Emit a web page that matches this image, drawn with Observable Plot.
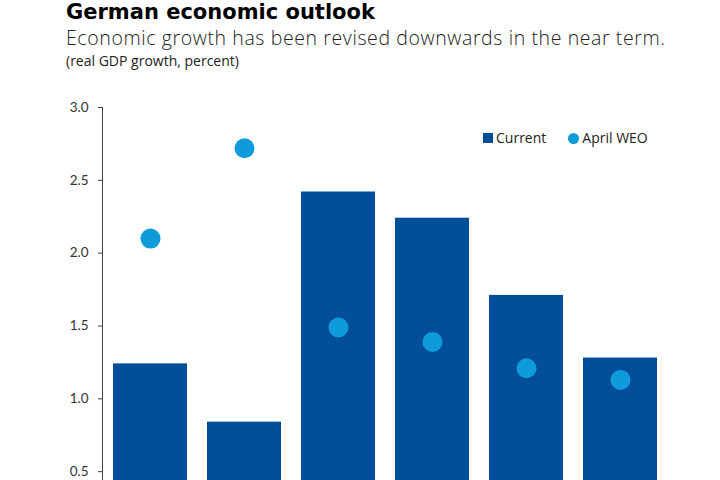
<!DOCTYPE html>
<html>
<head>
<meta charset="utf-8">
<script src="https://cdn.jsdelivr.net/npm/d3@7"></script>
<script src="https://cdn.jsdelivr.net/npm/@observablehq/plot@0.6"></script>
<style>
  html, body { margin: 0; padding: 0; background: #fff; }
  #page { position: relative; width: 720px; height: 480px; overflow: hidden; font-family: "Open Sans", Lato, sans-serif; color: #111; }
  #page > div { white-space: nowrap; }
  #title { position: absolute; left: 66px; top: 0px; font-family: "DejaVu Sans", sans-serif; font-size: 21px; line-height: normal; font-weight: 700; color: #000; }
  #subtitle { position: absolute; left: 66px; top: 28px; font-size: 19.5px; line-height: 19.5px; letter-spacing: 0.6px; font-weight: 300; color: #222; }
  #note { position: absolute; left: 66px; top: 54px; font-size: 14px; line-height: 14px; font-weight: 400; color: #222; }
  #chart { position: absolute; left: 0; top: 80px; }
  #legend { position: absolute; left: 483px; top: 129px; font-size: 14px; line-height: 18px; color: #222; display: flex; align-items: center; }
  #legend .sw { display: inline-block; width: 10px; height: 10px; margin-right: 3px; }
  #legend .dot { border-radius: 50%; width: 11px; height: 11px; margin-left: 22px; margin-right: 3px; }
</style>
</head>
<body>
<div id="page">
  <div id="title">German economic outlook</div>
  <div id="subtitle">Economic growth has been revised downwards in the near term.</div>
  <div id="note">(real GDP growth, percent)</div>
  <div id="chart"></div>
  <div id="legend">
    <span class="sw" style="background:#034e98"></span><span>Current</span>
    <span class="sw dot" style="background:#0f9ad9"></span><span>April WEO</span>
  </div>
</div>
<script>
// Real GDP growth, percent
const years = ["2022", "2023", "2024", "2025", "2026", "2027"];
const current = [1.24, 0.84, 2.42, 2.24, 1.71, 1.28];
const aprilWEO = [2.10, 2.72, 1.49, 1.39, 1.21, 1.13];
const yTicks = [0, 0.5, 1.0, 1.5, 2.0, 2.5, 3.0];

const barColor = "#034e98";
const dotColor = "#0f9ad9";

const rows = years.map((year, i) => ({year, current: current[i], april: aprilWEO[i]}));

const chart = Plot.plot({
  width: 720,
  height: 494,
  marginTop: 27,
  marginBottom: 30,
  marginLeft: 102,
  marginRight: 51,
  style: {fontFamily: "Lato, 'Open Sans', sans-serif", fontSize: "13.5px", color: "#333", background: "transparent"},
  x: {domain: years, paddingInner: 0.21, paddingOuter: 0.12, label: null, axis: null},
  y: {domain: [0, 3], label: null},
  marks: [
    Plot.barY(rows, {x: "year", y: "current", fill: barColor}),
    Plot.dot(rows, {x: "year", y: "april", r: 10, fill: dotColor}),
    Plot.axisY(yTicks, {tickFormat: d3.format(".1f"), tickSize: 4, tickPadding: 10, stroke: "#444", fill: "#333", label: null}),
    Plot.frame({anchor: "left", stroke: "#444"}),
    Plot.ruleY([0], {stroke: "#444"})
  ]
});
document.getElementById("chart").appendChild(chart);
</script>
</body>
</html>
